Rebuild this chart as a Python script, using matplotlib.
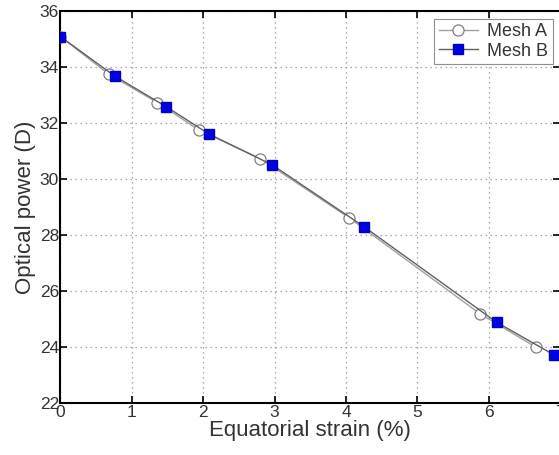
import matplotlib
matplotlib.use("Agg")
import matplotlib.pyplot as plt

plt.rcParams['font.family'] = ['Liberation Sans', 'DejaVu Sans']

# Mesh A (open circles)
strain_a = [0.0, 0.68, 1.36, 1.94, 2.80, 4.04, 5.88, 6.66]
power_a = [35.1, 33.75, 32.74, 31.76, 30.74, 28.63, 25.19, 24.0]

# Mesh B (filled squares)
strain_b = [0.0, 0.76, 1.485, 2.08, 2.97, 4.25, 6.11, 6.91]
power_b = [35.1, 33.69, 32.59, 31.62, 30.51, 28.31, 24.89, 23.73]

fig = plt.figure(figsize=(5.59, 4.55), dpi=100)
ax = fig.add_axes([0.108, 0.114, 0.894, 0.861])

ax.plot(strain_a, power_a, '-', color='#a0a0a0', lw=1.0, marker='o',
        markersize=8, markerfacecolor='white', markeredgecolor='#808080',
        markeredgewidth=0.9, label='Mesh A', zorder=3)
ax.plot(strain_b, power_b, '-', color='#606060', lw=1.0, marker='s',
        markersize=6.5, markerfacecolor='#0000e0', markeredgecolor='#0000c0',
        label='Mesh B', zorder=4)

ax.set_xlim(0, 7)
ax.set_ylim(22, 36)
ax.set_xticks(range(0, 8))
ax.set_yticks(range(22, 37, 2))
ax.grid(True, linestyle=(0, (1, 3)), color='#909090', lw=0.9)

for s in ax.spines.values():
    s.set_linewidth(1.5)
ax.tick_params(direction='in', top=True, right=True, length=5, width=1.2,
               labelsize=12.5, colors='black', labelcolor='#333333')
ax.tick_params(axis='x', pad=1)
ax.tick_params(axis='y', pad=1)

ax.set_xlabel('Equatorial strain (%)', fontsize=16, color='#333333', labelpad=0)
ax.set_ylabel('Optical power (D)', fontsize=16, color='#333333', labelpad=3)

leg = ax.legend(loc='upper right', fontsize=13, frameon=True, fancybox=False,
                borderaxespad=0.4, handlelength=2.2, borderpad=0.25,
                labelspacing=0.15, handletextpad=0.5, framealpha=1)
leg.get_frame().set_edgecolor('#909090')
leg.get_frame().set_linewidth(0.8)
for t in leg.get_texts():
    t.set_color('#333333')

fig.savefig('out.png', dpi=100)
